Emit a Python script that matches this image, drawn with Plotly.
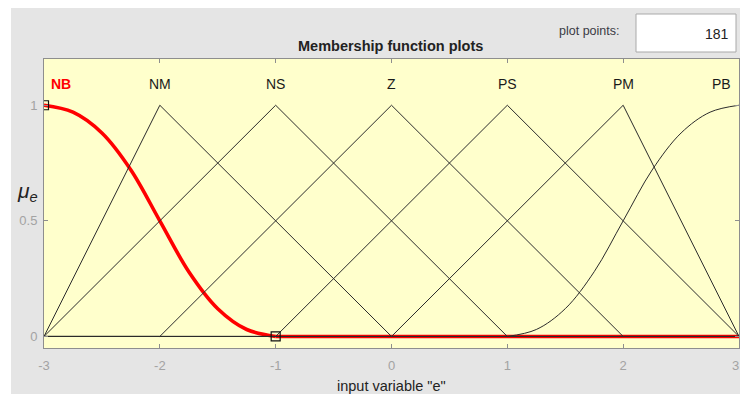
import plotly.graph_objects as go

# Input variable "e" on [-3, 3]
x_range = [-3, 3]
tick_vals_x = [-3, -2, -1, 0, 1, 2]   # the "3" at the right edge is placed by hand
tick_text_x = ["-3", "-2", "-1", "0", "1", "2"]
edge_tick_text = "3"
tick_vals_y = [0, 0.5, 1]
tick_text_y = ["0", "0.5", "1"]

# Membership function names and where their labels sit
mf_names = ["NB", "NM", "NS", "Z", "PS", "PM", "PB"]
label_x = [-2.85, -2, -1, 0, 1, 2, 2.85]
label_y = 1.09

# NB: Z-shaped curve from -3 down to -1, then zero up to 3
nb_curve_x = [-3, -2.75, -2.5, -2.25, -2, -1.75, -1.5, -1.25, -1]
nb_curve_y = [1, 0.97, 0.88, 0.72, 0.5, 0.28, 0.12, 0.03, 0]
nb_flat_x = [-1, 3]
nb_flat_y = [0, 0]

# Triangular sets (vertices over the whole range)
nm_x = [-3, -2, 0, 3]
nm_y = [0, 1, 0, 0]
ns_x = [-3, -1, 1, 3]
ns_y = [0, 1, 0, 0]
z_x = [-3, -2, 0, 2, 3]
z_y = [0, 0, 1, 0, 0]
ps_x = [-3, -1, 1, 3]
ps_y = [0, 0, 1, 0]
pm_x = [-3, 0, 2, 3]
pm_y = [0, 0, 1, 0]

# PB: zero from -3 to 1, then S-shaped curve from 1 up to 3
pb_flat_x = [-3, 1]
pb_flat_y = [0, 0]
pb_curve_x = [1, 1.25, 1.5, 1.75, 2, 2.25, 2.5, 2.75, 3]
pb_curve_y = [0, 0.03, 0.12, 0.28, 0.5, 0.72, 0.88, 0.97, 1]

# Edit handles of the selected set (NB)
handle_x = [-3, -1]
handle_y = [1, 0]

plot_points = 181

FONT = "Liberation Sans, Arial, Helvetica, sans-serif"
LINE = "#2b2b2b"
RED = "#ff0000"
GRID_GREY = "#8e8e8e"
TICK_GREY = "#a3a3a3"

fig = go.Figure()

# Selected set in thick red, underneath the others
fig.add_trace(go.Scatter(x=nb_curve_x, y=nb_curve_y, mode="lines",
                         line=dict(color=RED, width=3.6, shape="spline", smoothing=1),
                         hoverinfo="skip"))
fig.add_trace(go.Scatter(x=nb_flat_x, y=nb_flat_y, mode="lines",
                         line=dict(color=RED, width=3.6), hoverinfo="skip"))

for xs, ys in [(nm_x, nm_y), (ns_x, ns_y), (z_x, z_y), (ps_x, ps_y), (pm_x, pm_y),
               (pb_flat_x, pb_flat_y)]:
    fig.add_trace(go.Scatter(x=xs, y=ys, mode="lines",
                             line=dict(color=LINE, width=1), hoverinfo="skip"))

fig.add_trace(go.Scatter(x=pb_curve_x, y=pb_curve_y, mode="lines",
                         line=dict(color=LINE, width=1, shape="spline", smoothing=1),
                         hoverinfo="skip"))

fig.add_trace(go.Scatter(x=handle_x, y=handle_y, mode="markers",
                         marker=dict(symbol="square-open", size=9, color="#111111",
                                     line=dict(width=1.2)),
                         hoverinfo="skip"))

W, H = 740, 394
ML, MR, MT, MB = 44, 1, 59, 46
PW, PH = W - ML - MR, H - MT - MB


def px(xp):
    return (xp - ML) / PW


def py(yp):
    return (H - MB - yp) / PH


shapes = [
    # grey panel
    dict(type="rect", xref="paper", yref="paper", layer="below",
         x0=px(11), x1=px(740), y0=py(394), y1=py(8),
         fillcolor="#e5e5e5", line=dict(width=0)),
    # plot area
    dict(type="rect", xref="paper", yref="paper", layer="below",
         x0=0, x1=1, y0=0, y1=1,
         fillcolor="#ffffcc", line=dict(width=0)),
    # plot points edit box
    dict(type="rect", xref="paper", yref="paper",
         x0=px(636), x1=px(736), y0=py(52), y1=py(14),
         fillcolor="#ffffff", line=dict(color="#a9a9a9", width=1)),
]

annotations = []
for name, lx in zip(mf_names, label_x):
    sel = name == "NB"
    annotations.append(dict(
        x=lx, y=label_y, xref="x", yref="y", text=f"<b>{name}</b>" if sel else name,
        showarrow=False, xanchor="center", yanchor="middle",
        font=dict(family=FONT, size=14, color=RED if sel else "#1a1a1a")))

annotations += [
    # last x tick label, kept inside the page
    dict(x=px(740), y=py(365), xref="paper", yref="paper",
         text=edge_tick_text, showarrow=False, xanchor="right", yanchor="middle",
         borderpad=0, font=dict(family=FONT, size=13, color=TICK_GREY)),
    dict(x=px(390.5), y=py(46), xref="paper", yref="paper",
         text="<b>Membership function plots</b>", showarrow=False,
         xanchor="center", yanchor="middle",
         font=dict(family=FONT, size=14.5, color="#222222")),
    dict(x=px(557), y=py(31), xref="paper", yref="paper",
         text="plot points:", showarrow=False, xanchor="left", yanchor="middle",
         font=dict(family=FONT, size=12.5, color="#3a3a44")),
    dict(x=px(731), y=py(34), xref="paper", yref="paper",
         text=str(plot_points), showarrow=False, xanchor="right", yanchor="middle",
         font=dict(family=FONT, size=14, color="#222222")),
    dict(x=px(391), y=py(386), xref="paper", yref="paper",
         text='input variable "e"', showarrow=False, xanchor="center", yanchor="middle",
         font=dict(family=FONT, size=14.5, color="#222222")),
    dict(x=px(27), y=py(192), xref="paper", yref="paper",
         text="<i>μ<sub>e</sub></i>", showarrow=False, xanchor="center", yanchor="middle",
         font=dict(family=FONT, size=21, color="#222222")),
]

fig.update_layout(
    width=W, height=H,
    margin=dict(l=ML, r=MR, t=MT, b=MB, pad=0),
    paper_bgcolor="#ffffff",
    plot_bgcolor="rgba(0,0,0,0)",
    showlegend=False,
    shapes=shapes,
    annotations=annotations,
    xaxis=dict(range=x_range, tickvals=tick_vals_x, ticktext=tick_text_x,
               showgrid=False, zeroline=False, showline=True, mirror="ticks",
               linecolor=GRID_GREY, linewidth=1, ticks="inside", ticklen=4,
               tickcolor=GRID_GREY, ticklabelstandoff=5,
               tickfont=dict(family=FONT, size=13, color=TICK_GREY)),
    yaxis=dict(range=[-0.05, 1.2], tickvals=tick_vals_y, ticktext=tick_text_y,
               showgrid=False, zeroline=False, showline=True, mirror="ticks",
               linecolor=GRID_GREY, linewidth=1, ticks="inside", ticklen=4,
               tickcolor=GRID_GREY, ticklabelstandoff=3,
               tickfont=dict(family=FONT, size=13, color=TICK_GREY)),
)

fig.write_html("out.html")
